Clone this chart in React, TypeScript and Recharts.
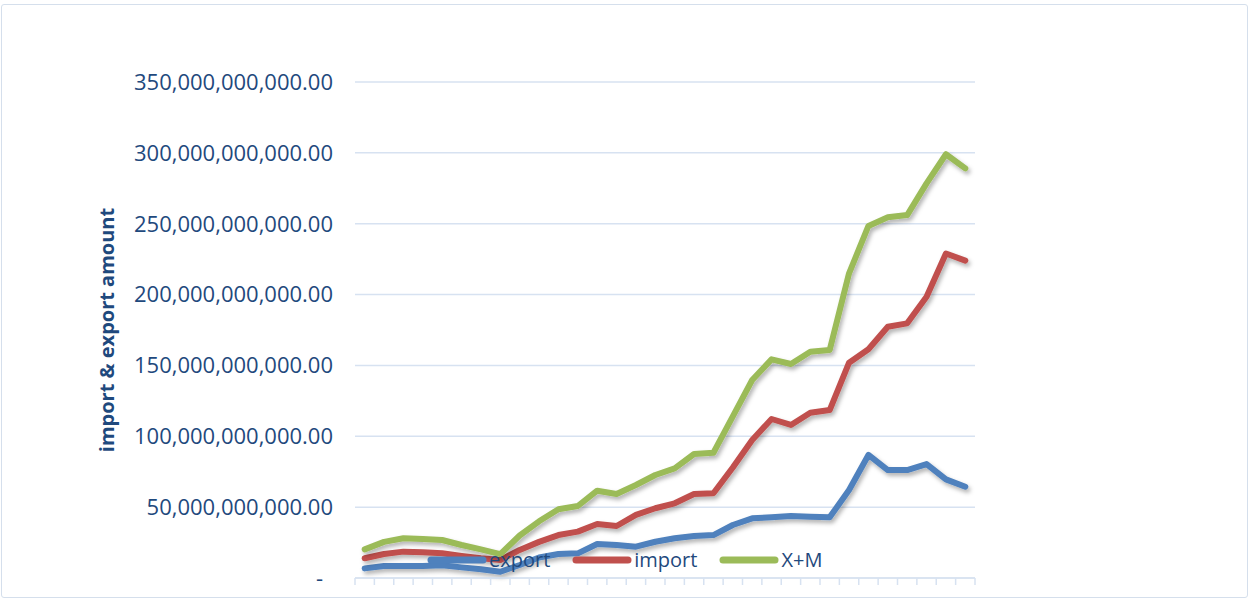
import React from 'react';
import { LineChart, Line, XAxis, YAxis, CartesianGrid, Legend } from 'recharts';

// 32 periods, no labels shown on the category axis
const periods = [
  1, 2, 3, 4, 5, 6, 7, 8, 9, 10, 11, 12, 13, 14, 15, 16,
  17, 18, 19, 20, 21, 22, 23, 24, 25, 26, 27, 28, 29, 30, 31, 32,
];

// values in billions
const exportValues = [
  6.8, 8.5, 8.5, 8.5, 9.0, 7.5, 6.1, 4.4, 9.2, 14.5, 16.9, 17.4, 24.0, 23.3, 22.1, 25.6,
  28.0, 29.6, 30.3, 37.4, 42.1, 42.8, 43.7, 43.3, 42.8, 62.1, 86.8, 76.2, 76.2, 80.4, 69.6, 64.4,
];
const importValues = [
  13.9, 16.9, 18.6, 18.1, 17.4, 15.5, 13.9, 12.7, 19.8, 25.5, 30.3, 32.7, 38.1, 36.7, 44.5, 49.2,
  52.7, 59.3, 59.8, 78.0, 97.4, 112.2, 108.0, 116.6, 118.5, 151.9, 161.4, 177.3, 179.7, 198.5, 229.0, 224.0,
];
const totalValues = [
  20.2, 25.5, 28.0, 27.5, 26.8, 23.3, 20.2, 16.9, 30.0, 40.0, 48.5, 50.8, 61.6, 59.3, 65.6, 72.7,
  77.4, 87.5, 88.4, 114.0, 139.7, 154.3, 151.0, 159.7, 160.9, 215.0, 248.4, 254.5, 256.1, 278.5, 299.0, 289.0,
];

const seriesNames = ['export', 'import', 'X+M'];
const yTicks = [0, 50e9, 100e9, 150e9, 200e9, 250e9, 300e9, 350e9];
const slotTicks = Array.from({ length: periods.length + 1 }, (_, i) => i);

const BILLION = 1e9;
const data = periods.map((p, i) => ({
  period: p,
  slot: i + 0.5,
  export: exportValues[i] * BILLION,
  import: importValues[i] * BILLION,
  total: totalValues[i] * BILLION,
}));

const FONT = '"Open Sans", sans-serif';
const TEXT = '#1F497D';
const GRID = '#d7e2f1';

const fmt = (v: number) =>
  v === 0
    ? '-'
    : v.toLocaleString('en-US', { minimumFractionDigits: 2, maximumFractionDigits: 2 });

const YTick = ({ x, y, payload }: any) => (
  <text
    x={payload.value === 0 ? x - 10 : x}
    y={y}
    dy="0.36em"
    textAnchor="end"
    fill={TEXT}
    fontSize={22}
    fontFamily={FONT}
  >
    {fmt(payload.value)}
  </text>
);

const LegendContent = ({ payload }: any) => {
  const items = [...(payload || [])].sort(
    (a: any, b: any) => seriesNames.indexOf(a.value) - seriesNames.indexOf(b.value)
  );
  return (
    <div style={{ display: 'flex', alignItems: 'center', fontFamily: FONT, fontSize: 20, color: TEXT }}>
      {items.map((p: any) => (
        <div key={p.value} style={{ display: 'flex', alignItems: 'center', marginRight: 21 }}>
          <svg width={62} height={14}>
            <line x1={5} y1={7} x2={57} y2={7} stroke={p.color} strokeWidth={7} strokeLinecap="round" />
          </svg>
          <span style={{ marginLeft: 1, lineHeight: '24px' }}>{p.value}</span>
        </div>
      ))}
    </div>
  );
};

export default function App() {
  return (
    <div style={{ position: 'absolute', left: 0, top: 0, width: 1250, height: 599, background: '#fff' }}>
      <div
        style={{
          position: 'absolute',
          left: 1,
          top: 4,
          width: 1247,
          height: 594,
          border: '1.5px solid #d5dfec',
          borderRadius: 3,
          boxSizing: 'border-box',
        }}
      />
      <LineChart
        width={1250}
        height={599}
        data={data}
        margin={{ top: 82, right: 275, bottom: 6, left: 0 }}
        style={{ position: 'absolute', left: 0, top: 0 }}
      >
        <defs>
          <filter id="lineShadow" x="-5%" y="-5%" width="110%" height="120%">
            <feDropShadow dx="2" dy="3" stdDeviation="2" floodColor="#000" floodOpacity="0.3" />
          </filter>
        </defs>
        <CartesianGrid vertical={false} stroke={GRID} strokeWidth={1.5} />
        <XAxis
          type="number"
          dataKey="slot"
          domain={[0, periods.length]}
          ticks={slotTicks}
          interval={0}
          tick={() => <g />}
          tickLine={{ stroke: GRID, strokeWidth: 1.5 }}
          tickSize={7}
          height={15}
          stroke={GRID}
          strokeWidth={1.5}
        />
        <YAxis
          width={355}
          domain={[0, 350e9]}
          ticks={yTicks}
          interval={0}
          axisLine={false}
          tickLine={false}
          tickSize={0}
          tickMargin={22}
          tick={<YTick />}
          label={{
            value: 'import & export amount',
            angle: -90,
            position: 'insideLeft',
            offset: 107,
            style: { textAnchor: 'middle', fontWeight: 700, fontSize: 20, fill: TEXT, fontFamily: FONT },
          }}
        />
        <Legend
          layout="horizontal"
          align="center"
          verticalAlign="middle"
          wrapperStyle={{ left: 426, top: 548, width: 460 }}
          content={<LegendContent />}
        />
        <Line
          name="export"
          dataKey="export"
          stroke="#4F81BD"
          strokeWidth={6}
          strokeLinecap="round"
          strokeLinejoin="round"
          dot={false}
          filter="url(#lineShadow)"
          isAnimationActive={false}
        />
        <Line
          name="import"
          dataKey="import"
          stroke="#C0504D"
          strokeWidth={6}
          strokeLinecap="round"
          strokeLinejoin="round"
          dot={false}
          filter="url(#lineShadow)"
          isAnimationActive={false}
        />
        <Line
          name="X+M"
          dataKey="total"
          stroke="#9BBB59"
          strokeWidth={6}
          strokeLinecap="round"
          strokeLinejoin="round"
          dot={false}
          filter="url(#lineShadow)"
          isAnimationActive={false}
        />
      </LineChart>
    </div>
  );
}
